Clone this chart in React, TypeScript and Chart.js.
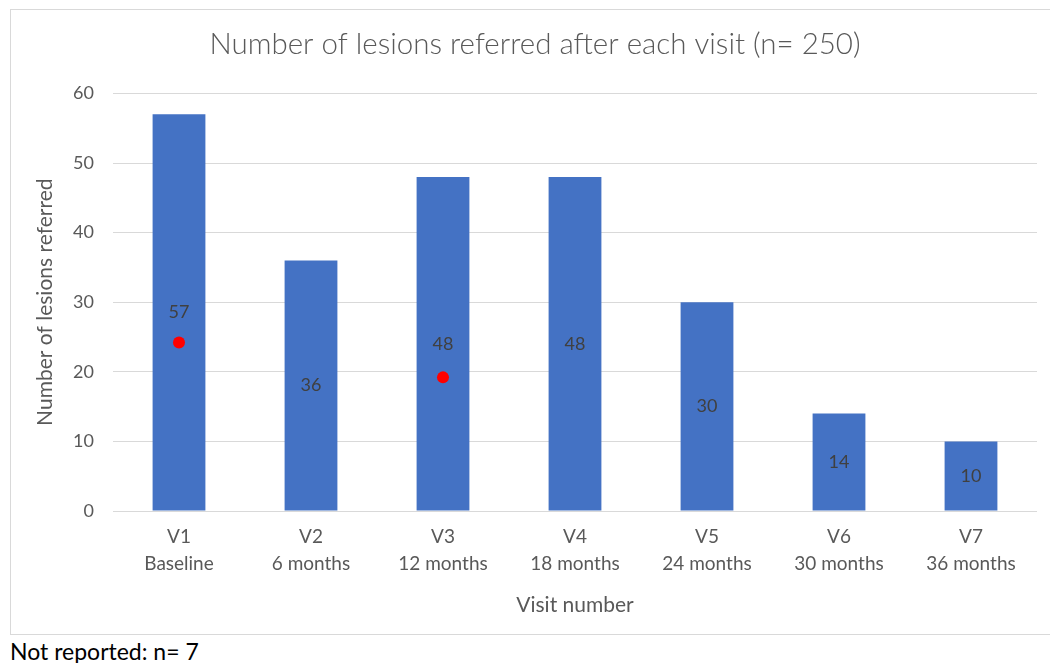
import React, { useEffect, useRef } from "react";
import { Chart, registerables } from "chart.js";

Chart.register(...registerables);

const categories: string[][] = [
  ["V1", "Baseline"],
  ["V2", "6 months"],
  ["V3", "12 months"],
  ["V4", "18 months"],
  ["V5", "24 months"],
  ["V6", "30 months"],
  ["V7", "36 months"],
];
const lesionsReferred: number[] = [57, 36, 48, 48, 30, 14, 10];
const redMarkers: (number | null)[] = [24.2, null, 19.2, null, null, null, null];
const yTicks = { min: 0, max: 60, step: 10 };

const FONT = "Lato, 'Open Sans', sans-serif";

const barLabelPlugin = {
  id: "barLabels",
  afterDatasetsDraw(chart: any) {
    const meta = chart.getDatasetMeta(0);
    const ctx = chart.ctx;
    ctx.save();
    ctx.font = `18px ${FONT}`;
    ctx.fillStyle = "#404040";
    ctx.textAlign = "center";
    ctx.textBaseline = "middle";
    meta.data.forEach((bar: any, i: number) => {
      const { x, y, base } = bar.getProps(["x", "y", "base"], true);
      ctx.fillText(String(lesionsReferred[i]), x, (y + base) / 2);
    });
    ctx.restore();
  },
};

export default function App() {
  const ref = useRef<HTMLCanvasElement | null>(null);
  useEffect(() => {
    if (!ref.current) return;
    const chart = new Chart(ref.current, {
      type: "bar",
      data: {
        labels: categories,
        datasets: [
          {
            type: "bar",
            data: lesionsReferred,
            backgroundColor: "#4472C4",
            barPercentage: 0.4,
            categoryPercentage: 1,
            order: 2,
          },
          {
            type: "line",
            data: redMarkers,
            showLine: false,
            pointRadius: 6,
            pointBackgroundColor: "#FF0000",
            pointBorderWidth: 0,
            pointBorderColor: "#FF0000",
            order: 1,
          } as any,
        ],
      },
      options: {
        animation: false,
        responsive: false,
        maintainAspectRatio: false,
        layout: { padding: { left: 22, right: 13, top: 0, bottom: 0 } },
        plugins: {
          legend: { display: false },
          tooltip: { enabled: false },
          title: {
            display: true,
            text: "Number of lesions referred after each visit (n= 250)",
            color: "#595959",
            font: { family: FONT, size: 29.5, weight: 300 as any, lineHeight: 1.2 },
            padding: { top: 17, bottom: 31 },
          },
        },
        scales: {
          x: {
            grid: { display: false },
            border: { display: false },
            ticks: {
              color: "#595959",
              font: { family: FONT, size: 19, lineHeight: 1.4 },
              padding: 5,
              maxRotation: 0,
              autoSkip: false,
            },
            title: {
              display: true,
              text: "Visit number",
              color: "#595959",
              font: { family: FONT, size: 21, lineHeight: 1.2 },
              padding: { top: 0, bottom: 17 },
            },
            afterFit(scale: any) {
              scale.height = 124;
            },
          },
          y: {
            min: yTicks.min,
            max: yTicks.max,
            grid: { color: "#d9d9d9", drawTicks: false, lineWidth: 1 },
            border: { display: false },
            ticks: {
              stepSize: yTicks.step,
              color: "#595959",
              font: { family: FONT, size: 18 },
              padding: 19,
            },
            title: {
              display: true,
              text: "Number of lesions referred",
              color: "#595959",
              font: { family: FONT, size: 21, lineHeight: 1.2 },
              padding: { top: 0, bottom: 0 },
            },
            afterFit(scale: any) {
              scale.width = 80;
            },
          },
        },
      },
      plugins: [barLabelPlugin],
    });
    return () => chart.destroy();
  }, []);

  return (
    <div style={{ position: "absolute", left: 0, top: 0, width: 1050, height: 663, overflow: "hidden", background: "#fff" }}>
      <div
        style={{
          position: "absolute",
          left: 10,
          top: 9,
          width: 1060,
          height: 626,
          border: "1px solid #d9d9d9",
          boxSizing: "border-box",
        }}
      />
      <canvas
        ref={ref}
        width={1039}
        height={625}
        style={{ position: "absolute", left: 11, top: 10, width: 1039, height: 625 }}
      />
      <div
        style={{
          position: "absolute",
          left: 10,
          top: 637,
          fontFamily: FONT,
          fontSize: 23,
          lineHeight: "28px",
          color: "#000",
          whiteSpace: "nowrap",
        }}
      >
        Not reported: n= 7
      </div>
    </div>
  );
}
